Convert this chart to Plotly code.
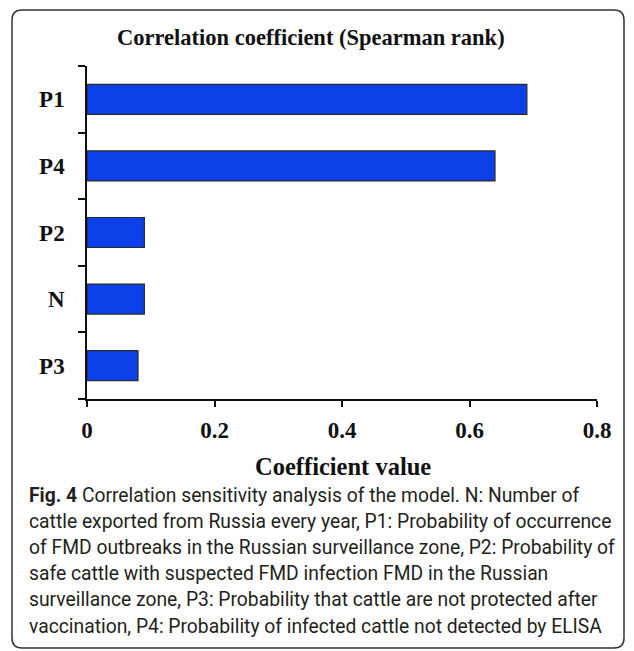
import plotly.graph_objects as go

categories = ["P1", "P4", "P2", "N", "P3"]
values = [0.69, 0.64, 0.09, 0.09, 0.08]
x_ticks = [0, 0.2, 0.4, 0.6, 0.8]
x_tick_labels = ["0", "0.2", "0.4", "0.6", "0.8"]

title_text = "Correlation coefficient (Spearman rank)"
x_title = "Coefficient value"
caption_lines = [
    "<b>Fig. 4</b> Correlation sensitivity analysis of the model. N: Number of",
    "cattle exported from Russia every year, P1: Probability of occurrence",
    "of FMD outbreaks in the Russian surveillance zone, P2: Probability of",
    "safe cattle with suspected FMD infection FMD in the Russian",
    "surveillance zone, P3: Probability that cattle are not protected after",
    "vaccination, P4: Probability of infected cattle not detected by ELISA",
]

# page has an 8px body margin; figure coordinates = page coordinates - 8
W, H = 626, 643
ML, MR, MT, MB = 79, 37, 58, 252
PW, PH = W - ML - MR, H - MT - MB


def px(x):
    return (x - ML) / PW


def py(y):
    return 1 - (y - MT) / PH


serif = "Liberation Serif"
fig = go.Figure()
fig.add_trace(go.Bar(
    y=categories, x=values, orientation="h", width=0.45,
    marker=dict(color="#0c40e8", line=dict(color="#2a2a2a", width=1.2)),
))

# rounded frame
x0, y0, x1, y1, r = 4, 2, 616, 640, 10
path = (f"M {px(x0+r)} {py(y0)} L {px(x1-r)} {py(y0)} Q {px(x1)} {py(y0)} {px(x1)} {py(y0+r)} "
        f"L {px(x1)} {py(y1-r)} Q {px(x1)} {py(y1)} {px(x1-r)} {py(y1)} "
        f"L {px(x0+r)} {py(y1)} Q {px(x0)} {py(y1)} {px(x0)} {py(y1-r)} "
        f"L {px(x0)} {py(y0+r)} Q {px(x0)} {py(y0)} {px(x0+r)} {py(y0)} Z")

annotations = [
    dict(text=f"<b>{title_text}</b>", x=px(303), y=py(30), xref="paper", yref="paper",
         showarrow=False, font=dict(family=serif, size=22.5, color="#111"),
         xanchor="center", yanchor="middle"),
    dict(text=f"<b>{x_title}</b>", x=px(335), y=py(458), xref="paper", yref="paper",
         showarrow=False, font=dict(family=serif, size=24.5, color="#111"),
         xanchor="center", yanchor="middle"),
]
line_y0, line_dy = 487, 26.2
for i, ln in enumerate(caption_lines):
    annotations.append(dict(
        text=ln, x=px(19), y=py(line_y0 + i * line_dy), xref="paper", yref="paper",
        showarrow=False, font=dict(family="Roboto", size=19.3, color="#231f20"),
        xanchor="left", yanchor="middle", align="left"))

fig.update_layout(
    width=W, height=H,
    margin=dict(l=ML, r=MR, t=MT, b=MB, pad=0),
    paper_bgcolor="white", plot_bgcolor="white",
    showlegend=False,
    shapes=[dict(type="path", path=path, xref="paper", yref="paper",
                 line=dict(color="#333", width=1.5), layer="below")],
    annotations=annotations,
    xaxis=dict(range=[0, 0.8], tickvals=x_ticks, ticktext=x_tick_labels,
               showline=True, linecolor="#111", linewidth=1.5, showgrid=False, zeroline=False,
               ticks="outside", ticklen=6, tickwidth=1.5, tickcolor="#111",
               ticklabelstandoff=4,
               tickfont=dict(family=serif, size=23, color="#111", weight="bold")),
    yaxis=dict(categoryorder="array", categoryarray=categories[::-1],
               range=[-0.5, 4.5],
               showline=True, linecolor="#111", linewidth=1.5, showgrid=False, zeroline=False,
               ticks="outside", ticklen=7, tickwidth=1.5, tickcolor="#111",
               tickson="boundaries", ticklabelstandoff=16,
               tickfont=dict(family=serif, size=23, color="#111", weight="bold")),
)

fig.write_html("out.html")
